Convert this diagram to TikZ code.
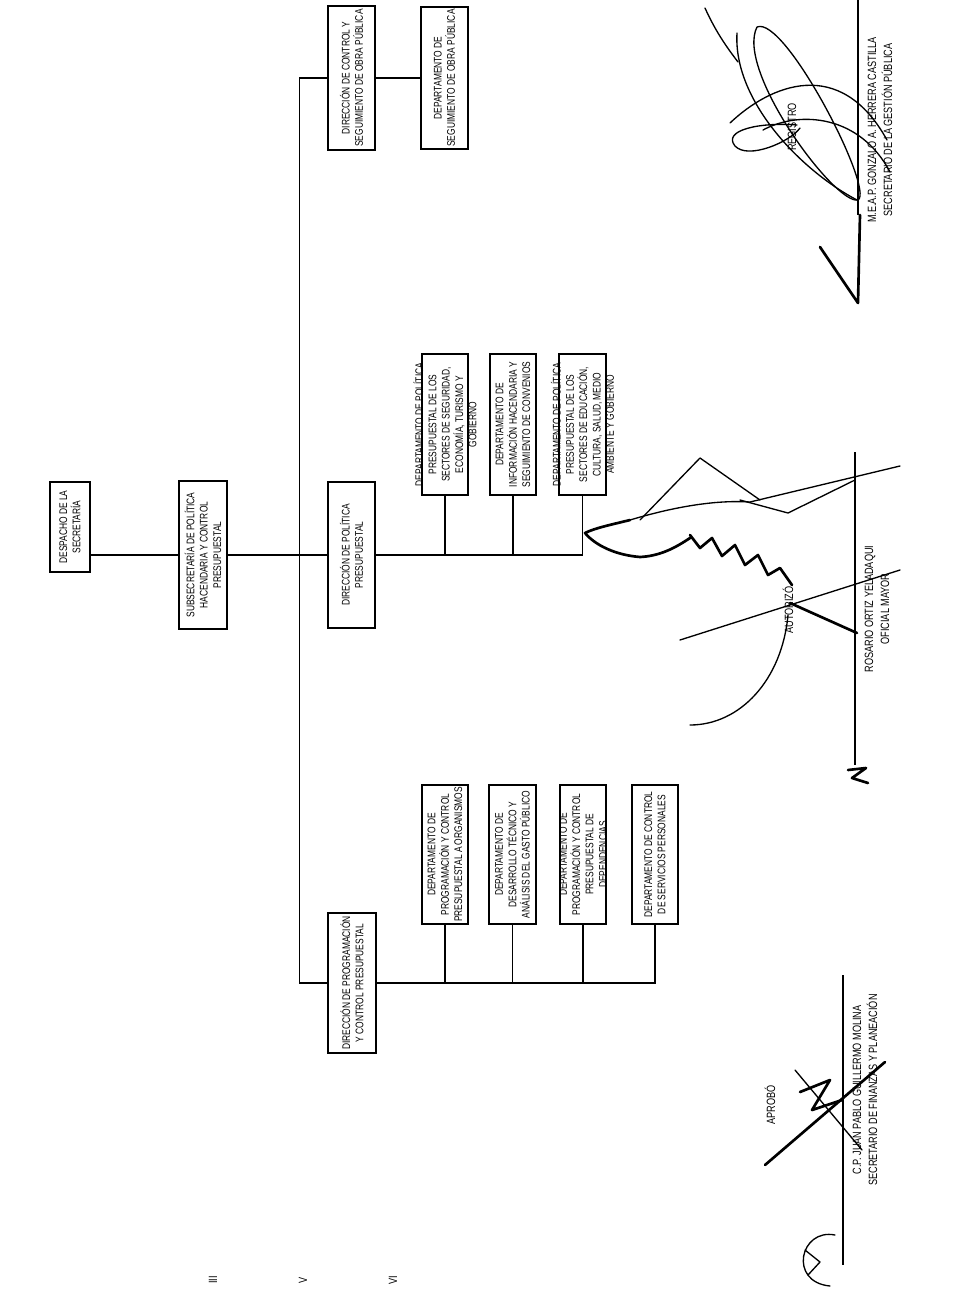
\documentclass[tikz,border=0pt]{standalone}
\usepackage{fontspec}
\setmainfont{Liberation Sans}[FakeStretch=0.76]
\begin{document}
\begin{tikzpicture}[x=0.75pt,y=-0.75pt,
  box/.style 2 args={draw,line width=1pt,minimum width=#1*0.75pt,minimum height=#2*0.75pt,inner sep=0pt},
  lbl/.style={rotate=90,align=center,inner sep=0pt,font=\fontsize{8.3}{10}\selectfont},
  sname/.style={rotate=90,align=center,inner sep=0pt,font=\fontsize{9}{12}\selectfont},
  conn/.style={line width=1pt},
  sig/.style={line width=1pt,line cap=round,line join=round},
  thicksig/.style={line width=2pt,line cap=round,line join=round}]
\useasboundingbox (0,0) rectangle (953,1290);
% boxes
\node[box={40}{90}] (desp) at (70,527) {};
\node[box={48}{148}] (sub) at (203,555) {};
\node[box={47}{146}] (dpol) at (351.5,555) {};
\node[box={48}{140}] (dprog) at (352,983) {};
\node[box={47}{144}] (dctrl) at (351.5,78) {};
\node[box={47}{142}] (dseg) at (444.5,78) {};
\node[box={46}{141}] (dA) at (445,424.5) {};
\node[box={46}{141}] (dB) at (513,424.5) {};
\node[box={47}{141}] (dC) at (582.5,424.5) {};
\node[box={46}{139}] (d1) at (445,854.5) {};
\node[box={47}{139}] (d2) at (512.5,854.5) {};
\node[box={46}{139}] (d3) at (583,854.5) {};
\node[box={46}{139}] (d4) at (655,854.5) {};
% labels
\node[lbl] (tdesp) at (desp) {DESPACHO DE LA\\SECRETARÍA};
\node[lbl] (tsub) at (sub) {SUBSECRETARÍA DE POLÍTICA\\HACENDARIA Y CONTROL\\PRESUPUESTAL};
\node[lbl] (tdpol) at (dpol) {DIRECCIÓN DE POLÍTICA\\PRESUPUESTAL};
\node[lbl] (tdprog) at (dprog) {DIRECCIÓN DE PROGRAMACIÓN\\Y CONTROL PRESUPUESTAL};
\node[lbl] (tdctrl) at (dctrl) {DIRECCIÓN DE CONTROL Y\\SEGUIMIENTO DE OBRA PÚBLICA};
\node[lbl] (tdseg) at (dseg) {DEPARTAMENTO DE\\SEGUIMIENTO DE OBRA PÚBLICA};
\node[lbl] (tdA) at (dA) {DEPARTAMENTO DE POLÍTICA\\PRESUPUESTAL DE LOS\\SECTORES DE SEGURIDAD,\\ECONOMÍA, TURISMO Y\\GOBIERNO};
\node[lbl] (tdB) at (dB) {DEPARTAMENTO DE\\INFORMACIÓN HACENDARIA Y\\SEGUIMIENTO DE CONVENIOS};
\node[lbl] (tdC) at (dC) {DEPARTAMENTO DE POLÍTICA\\PRESUPUESTAL DE LOS\\SECTORES DE EDUCACIÓN,\\CULTURA, SALUD, MEDIO\\AMBIENTE Y GOBIERNO};
\node[lbl] (td1) at (d1) {DEPARTAMENTO DE\\PROGRAMACIÓN Y CONTROL\\PRESUPUESTAL A ORGANISMOS};
\node[lbl] (td2) at (d2) {DEPARTAMENTO DE\\DESARROLLO TÉCNICO Y\\ANÁLISIS DEL GASTO PÚBLICO};
\node[lbl] (td3) at (d3) {DEPARTAMENTO DE\\PROGRAMACIÓN Y CONTROL\\PRESUPUESTAL DE\\DEPENDENCIAS};
\node[lbl] (td4) at (d4) {DEPARTAMENTO DE CONTROL\\DE SERVICIOS PERSONALES};
% connectors
\draw[conn] (desp.east |- sub.west) -- (sub.west);
\draw[conn] (sub.east) -- (dpol.west);
\draw[conn] (dctrl.west) -- ++(-28,0) |- (dprog.west);
\draw[conn] (dctrl.east) -- (dseg.west);
\draw[conn] (dpol.east) -| (dC.south);
\draw[conn] (dA.south) -- (dA.south |- dpol.east);
\draw[conn] (dB.south) -- (dB.south |- dpol.east);
\draw[conn] (dprog.east) -| (d4.south);
\draw[conn] (d1.south) -- (d1.south |- dprog.east);
\draw[conn] (d2.south) -- (d2.south |- dprog.east);
\draw[conn] (d3.south) -- (d3.south |- dprog.east);
% signature lines and names
\coordinate (rA) at (858,0); \coordinate (rB) at (858,215);
\draw[conn] (rA) -- (rB);
\node[sname] (nreg) at (880,130) {M.E.A.P. GONZALO A. HERRERA CASTILLA\\SECRETARIO DE LA GESTIÓN PÚBLICA};
\node[sname] (treg) at (792,127) {REGISTRO};
\coordinate (aA) at (855,452); \coordinate (aB) at (855,765);
\draw[conn] (aA) -- (aB);
\node[sname] (naut) at (877,609) {ROSARIO ORTIZ YELADAQUI\\OFICIAL MAYOR};
\node[sname] (taut) at (788,610) {AUTORIZÓ};
\coordinate (pA) at (843,975); \coordinate (pB) at (843,1265);
\draw[conn] (pA) -- (pB);
\node[sname] (napr) at (865,1090) {C.P. JUAN PABLO GUILLERMO MOLINA\\SECRETARIO DE FINANZAS Y PLANEACIÓN};
\node[sname] (tapr) at (770,1105) {APROBÓ};
% roman numerals
\node[sname] (r3) at (213,1280) {III};
\node[sname] (r5) at (303,1280) {V};
\node[sname] (r6) at (393,1280) {VI};
% signature REGISTRO
\draw[sig] (757,27) .. controls (735,70) and (835,205) .. (858,200) .. controls (875,190) and (785,15) .. (757,27);
\draw[sig] (730,123) .. controls (770,85) and (840,55) .. (887,140);
\draw[sig] (737,33) .. controls (733,100) and (800,170) .. (857,200);
\draw[sig] (797,125) .. controls (760,122) and (722,130) .. (735,146) .. controls (748,160) and (790,142) .. (800,128);
\draw[sig] (763,130) .. controls (800,110) and (860,115) .. (890,172);
\draw[thicksig] (820,247) -- (858,303) -- (860,215);
\draw[sig] (705,8) .. controls (715,30) and (725,45) .. (738,62);
% signature AUTORIZO
\draw[thicksig] (630,520) .. controls (610,525) and (595,528) .. (585,533) .. controls (595,545) and (615,555) .. (640,557) .. controls (660,556) and (675,548) .. (690,538);
\draw[sig] (630,520) .. controls (680,505) and (720,500) .. (750,502) -- (900,466);
\draw[sig] (640,520) -- (700,458) -- (760,500);
\draw[sig] (740,500) -- (788,513) -- (855,480);
\draw[thicksig] (690,535) -- (700,548) -- (712,538) -- (722,556) -- (735,545) -- (745,565) -- (758,555) -- (768,575) -- (780,568) -- (792,585);
\draw[sig] (680,640) -- (900,570);
\draw[thicksig] (790,603) -- (857,633);
\draw[sig] (788,615) .. controls (782,680) and (740,725) .. (690,725);
\draw[thicksig] (848,770) -- (866,768) -- (852,778) -- (868,783);
% signature APROBO
\draw[thicksig] (765,1165) -- (885,1062);
\draw[sig] (795,1070) -- (862,1150);
\draw[thicksig] (800,1092) -- (830,1080) -- (812,1110) -- (842,1100);
\draw[sig] (805,1250) -- (820,1262) -- (808,1275);
\draw[sig] (835,1235) .. controls (800,1228) and (788,1282) .. (830,1286);
\end{tikzpicture}
\end{document}
